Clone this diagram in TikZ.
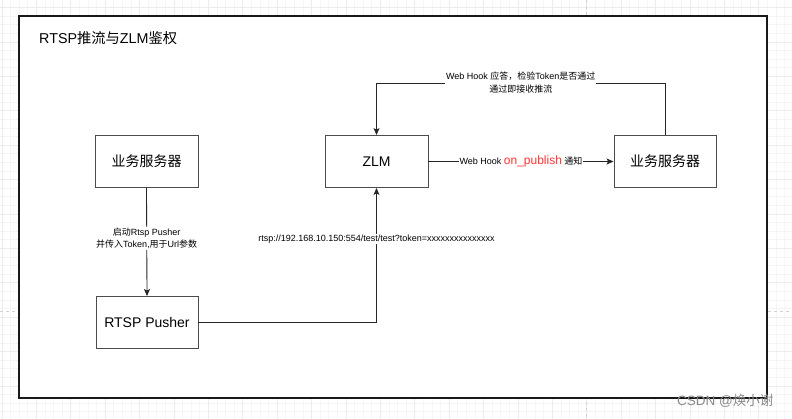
\documentclass[tikz,border=0pt]{standalone}
\usepackage{fontspec}
\setmainfont{Liberation Sans}
\newfontfamily\cjk{Noto Sans CJK SC}
\usetikzlibrary{positioning}
\usetikzlibrary{arrows.meta}
\definecolor{hookred}{HTML}{FF3333}
\definecolor{markgray}{HTML}{8A8A8A}
\tikzset{% drawio-like styles
  box/.style    = {fill=white, draw=black!70, line width=0.95pt, rectangle,
    minimum width=103pt, minimum height=52pt, inner sep=0pt, align=center,
    font=\fontsize{14}{16}\selectfont},
  link/.style   = {draw=black!85, line width=0.85pt,
    -{Stealth[length=7pt, width=6pt, inset=1.6pt]}},
  tag/.style    = {fill=white, inner sep=1pt, align=center,
    font=\fontsize{9}{12}\selectfont},
  gridminor/.style = {draw=gray!8, line width=0.5pt},
  gridmajor/.style = {draw=gray!15, line width=0.6pt},
}

\begin{document}
\begin{tikzpicture}[x=1pt, y=-1pt]
  \useasboundingbox (0,0) rectangle (792,418);

  % background grid
  \begin{scope}[shift={(1.8,7.4)}]
    \draw[gridminor] (-10,-10) grid[step=8.6pt] (800,420);
    \draw[gridmajor] (-10,-10) grid[step=34.4pt] (800,420);
  \end{scope}
  \draw[gray!35, dashed, line width=0.6pt] (586,0) -- (586,418);
  \draw[gray!35, dashed, line width=0.6pt] (0,311) -- (792,311);

  % frame and title
  \node[draw=black!90, fill=white, line width=1.2pt, minimum width=748pt,
    minimum height=382pt, inner sep=0pt] at (393,207) (frame) {};
  \node[anchor=west, inner sep=0pt, font=\fontsize{14.3}{16}\selectfont] at (39,38) (title)
    {RTSP{\cjk 推流与}ZLM{\cjk 鉴权}};

  % boxes
  \node[box] at (146.5,161) (srv1) {{\cjk 业务服务器}};
  \node[box] at (376.5,161.5) (zlm) {ZLM};
  \node[box, minimum width=102pt] at (665,161.5) (srv2) {{\cjk 业务服务器}};
  \node[box, minimum width=102pt] at (147,322.5) (pusher) {RTSP Pusher};

  % connectors
  \draw[link] (srv1.south) -- node[tag, pos=0.47]
    {{\cjk 启动}Rtsp Pusher\\{\cjk 并传入}Token,{\cjk 用于}Url{\cjk 参数}} (pusher.north);

  \draw[link] (pusher.east) -| node[tag, pos=0.81]
    {rtsp://192.168.10.150:554/test/test?token=xxxxxxxxxxxxxxx} (zlm.south);

  \draw[link] (zlm.east) -- node[tag]
    {Web Hook {\color{hookred}\fontsize{12}{12}\selectfont on\_publish} {\cjk 通知}} (srv2.west);

  \draw[link] (srv2.north) -- ++(0,-52) -| node[tag, pos=0.25, font=\fontsize{9}{13}\selectfont]
    {Web Hook {\cjk 应答，检验}Token{\cjk 是否通过}\\{\cjk 通过即接收推流}} (zlm.north);

  % watermark
  \node[anchor=west, inner sep=0pt, text=markgray, font=\fontsize{13.5}{15}\selectfont]
    at (677,401) (mark) {CSDN @{\cjk 焕小谢}};
\end{tikzpicture}
\end{document}
